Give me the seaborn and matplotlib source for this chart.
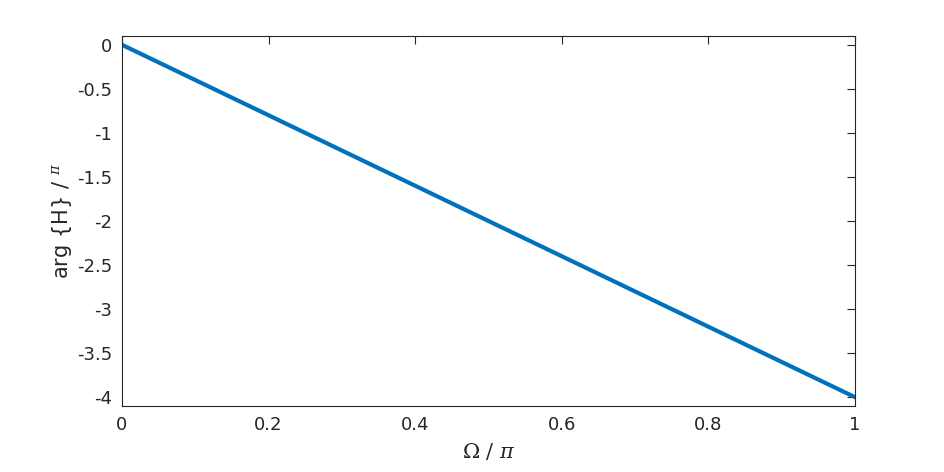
import matplotlib
matplotlib.use('Agg')
import matplotlib.pyplot as plt
import seaborn as sns
import pandas as pd

# Phase response (linear phase)
omega = [0.0, 0.2, 0.4, 0.6, 0.8, 1.0]
phase = [0.0, -0.8, -1.6, -2.4, -3.2, -4.0]

x_ticks = [0, 0.2, 0.4, 0.6, 0.8, 1]
x_tick_labels = ['0', '0.2', '0.4', '0.6', '0.8', '1']
y_ticks = [0, -0.5, -1, -1.5, -2, -2.5, -3, -3.5, -4]
y_tick_labels = ['0', '-0.5', '-1', '-1.5', '-2', '-2.5', '-3', '-3.5', '-4']

sns.set_style('white')
plt.rcParams['font.family'] = ['DejaVu Sans']
plt.rcParams['mathtext.fontset'] = 'dejavuserif'

df = pd.DataFrame({'omega': omega, 'phase': phase})

fig = plt.figure(figsize=(9.45, 4.72), dpi=100)
ax = fig.add_axes([122 / 945, 1 - 406 / 472, (855 - 122) / 945, (406 - 36) / 472])

sns.lineplot(data=df, x='omega', y='phase', ax=ax, color='#0072BD', linewidth=3.0)

ax.set_xlim(0, 1)
ax.set_ylim(-4.1, 0.1)
ax.set_xticks(x_ticks)
ax.set_xticklabels(x_tick_labels)
ax.set_yticks(y_ticks)
ax.set_yticklabels(y_tick_labels)

ax.tick_params(direction='in', length=5.5, width=0.8, colors='#262626',
               labelsize=13, top=True, right=True, pad=7)
for s in ax.spines.values():
    s.set_color('#262626')
    s.set_linewidth(0.8)

ax.set_xlabel(r'$\Omega\ /\ \pi$', fontsize=15, color='#262626', labelpad=5)
ax.set_ylabel(r'arg {H} / $^{\pi}$', fontsize=15, color='#262626', labelpad=2)

fig.savefig('out.png', dpi=100)
